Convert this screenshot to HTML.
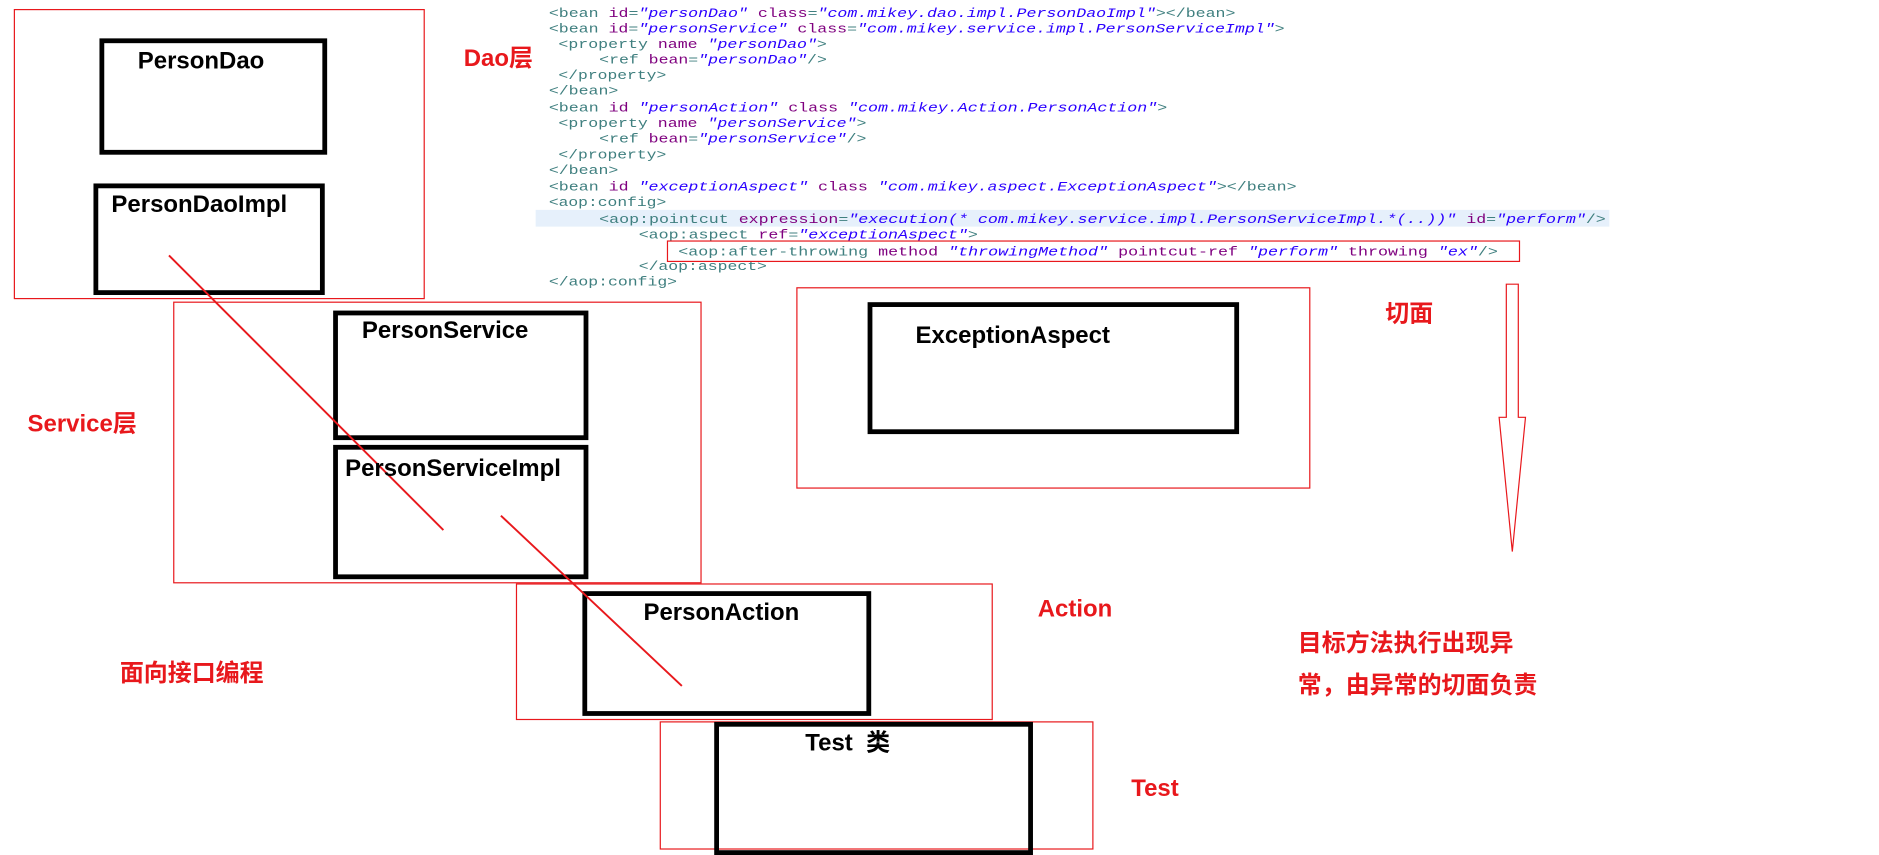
<!DOCTYPE html>
<html><head><meta charset="utf-8"><style>
html,body{margin:0;padding:0;background:#fff;}
svg{display:block;}
.c{font-family:"Liberation Mono",monospace;font-size:11px;fill:#3f7f7f;}
.a{fill:#7f007f;}
.v{fill:#2a00ff;font-style:italic;}
.b{font-family:"Liberation Sans",sans-serif;font-weight:bold;font-size:20px;fill:#000;}
.r{font-family:"Liberation Sans","Noto Sans CJK SC",sans-serif;font-weight:bold;font-size:20px;fill:#e8181c;}
</style></head><body>
<svg width="1879" height="855" viewBox="0 0 1568 713" preserveAspectRatio="none" xmlns="http://www.w3.org/2000/svg">
<rect x="447" y="175" width="896" height="14" fill="#e6f0fb"/>
<g class="c">
<text x="458" y="14" textLength="573" lengthAdjust="spacingAndGlyphs">&lt;bean <tspan class="a">id</tspan>=<tspan class="v">"personDao"</tspan> <tspan class="a">class</tspan>=<tspan class="v">"com.mikey.dao.impl.PersonDaoImpl"</tspan>&gt;&lt;/bean&gt;</text>
<text x="458" y="27" textLength="614" lengthAdjust="spacingAndGlyphs">&lt;bean <tspan class="a">id</tspan>=<tspan class="v">"personService"</tspan> <tspan class="a">class</tspan>=<tspan class="v">"com.mikey.service.impl.PersonServiceImpl"</tspan>&gt;</text>
<text x="466" y="40" textLength="224" lengthAdjust="spacingAndGlyphs">&lt;property <tspan class="a">name</tspan> <tspan class="v">"personDao"</tspan>&gt;</text>
<text x="500" y="53" textLength="190" lengthAdjust="spacingAndGlyphs">&lt;ref <tspan class="a">bean</tspan>=<tspan class="v">"personDao"</tspan>/&gt;</text>
<text x="466" y="66" textLength="90" lengthAdjust="spacingAndGlyphs">&lt;/property&gt;</text>
<text x="458" y="79" textLength="58" lengthAdjust="spacingAndGlyphs">&lt;/bean&gt;</text>
<text x="458" y="93" textLength="516" lengthAdjust="spacingAndGlyphs">&lt;bean <tspan class="a">id</tspan> <tspan class="v">"personAction"</tspan> <tspan class="a">class</tspan> <tspan class="v">"com.mikey.Action.PersonAction"</tspan>&gt;</text>
<text x="466" y="106" textLength="257" lengthAdjust="spacingAndGlyphs">&lt;property <tspan class="a">name</tspan> <tspan class="v">"personService"</tspan>&gt;</text>
<text x="500" y="119" textLength="223" lengthAdjust="spacingAndGlyphs">&lt;ref <tspan class="a">bean</tspan>=<tspan class="v">"personService"</tspan>/&gt;</text>
<text x="466" y="132" textLength="90" lengthAdjust="spacingAndGlyphs">&lt;/property&gt;</text>
<text x="458" y="145" textLength="58" lengthAdjust="spacingAndGlyphs">&lt;/bean&gt;</text>
<text x="458" y="159" textLength="624" lengthAdjust="spacingAndGlyphs">&lt;bean <tspan class="a">id</tspan> <tspan class="v">"exceptionAspect"</tspan> <tspan class="a">class</tspan> <tspan class="v">"com.mikey.aspect.ExceptionAspect"</tspan>&gt;&lt;/bean&gt;</text>
<text x="458" y="172" textLength="98" lengthAdjust="spacingAndGlyphs">&lt;aop:config&gt;</text>
<text x="500" y="186" textLength="840" lengthAdjust="spacingAndGlyphs">&lt;aop:pointcut <tspan class="a">expression</tspan>=<tspan class="v">"execution(* com.mikey.service.impl.PersonServiceImpl.*(..))"</tspan> <tspan class="a">id</tspan>=<tspan class="v">"perform"</tspan>/&gt;</text>
<text x="533" y="199" textLength="283" lengthAdjust="spacingAndGlyphs">&lt;aop:aspect <tspan class="a">ref</tspan>=<tspan class="v">"exceptionAspect"</tspan>&gt;</text>
<text x="566" y="213" textLength="684" lengthAdjust="spacingAndGlyphs">&lt;aop:after-throwing <tspan class="a">method</tspan> <tspan class="v">"throwingMethod"</tspan> <tspan class="a">pointcut-ref</tspan> <tspan class="v">"perform"</tspan> <tspan class="a">throwing</tspan> <tspan class="v">"ex"</tspan>/&gt;</text>
<text x="533" y="225" textLength="107" lengthAdjust="spacingAndGlyphs">&lt;/aop:aspect&gt;</text>
<text x="458" y="238" textLength="107" lengthAdjust="spacingAndGlyphs">&lt;/aop:config&gt;</text>
</g>
<rect x="557" y="201" width="711" height="17" fill="none" stroke="#e8181c" stroke-width="1"/>

<g fill="none" stroke="#e8181c" stroke-width="1">
<rect x="12" y="8" width="342" height="241"/>
<rect x="145" y="252" width="440" height="234"/>
<rect x="431" y="487" width="397" height="113"/>
<rect x="551" y="602" width="361" height="106"/>
<rect x="665" y="240" width="428" height="167"/>
<path d="M1257,237 H1267 V348 H1273 L1262,460 L1251,348 H1257 Z"/>
</g>
<g fill="none" stroke="#000" stroke-width="4">
<rect x="85" y="34" width="186" height="93"/>
<rect x="80" y="155" width="189" height="89"/>
<rect x="280" y="261" width="209" height="104"/>
<rect x="280" y="373" width="209" height="108"/>
<rect x="488" y="495" width="237" height="100"/>
<rect x="598" y="604" width="262" height="107"/>
<rect x="726" y="254" width="306" height="106"/>
</g>
<g stroke="#e8181c" stroke-width="1.6">
<line x1="141" y1="213" x2="370" y2="442"/>
<line x1="418" y1="430" x2="569" y2="572"/>
</g>
<g class="b">
<text x="115" y="57">PersonDao</text>
<text x="93" y="177">PersonDaoImpl</text>
<text x="302" y="282">PersonService</text>
<text x="288" y="397">PersonServiceImpl</text>
<text x="537" y="517">PersonAction</text>
<text x="672" y="626" font-family="Liberation Sans,Noto Sans CJK SC,sans-serif">Test &#160;类</text>
<text x="764" y="286">ExceptionAspect</text>
</g>
<g class="r">
<text x="387" y="55">Dao层</text>
<text x="23" y="360">Service层</text>
<text x="866" y="514">Action</text>
<text x="100" y="568">面向接口编程</text>
<text x="944" y="664">Test</text>
<text x="1156" y="268">切面</text>
<text x="1083" y="543">目标方法执行出现异</text>
<text x="1083" y="578">常，由异常的切面负责</text>
</g>
</svg>
</body></html>
